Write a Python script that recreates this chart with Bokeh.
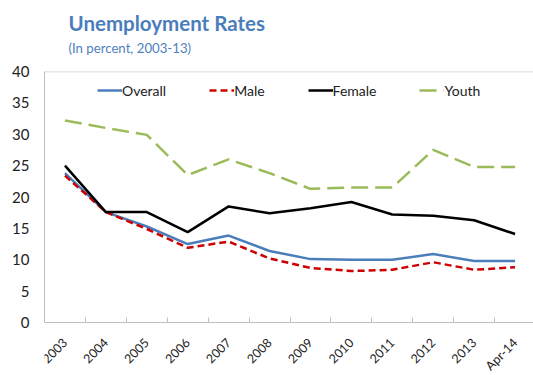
import math
from bokeh.plotting import figure
from bokeh.models import (FixedTicker, Legend, LegendItem, Span, Range1d, Title)
from bokeh.embed import file_html
from bokeh.resources import INLINE

categories = ["2003", "2004", "2005", "2006", "2007", "2008", "2009", "2010",
              "2011", "2012", "2013", "Apr-14"]
overall = [23.8, 17.6, 15.3, 12.5, 13.85, 11.4, 10.1, 10.0, 10.0, 10.9, 9.8, 9.8]
male = [23.4, 17.6, 14.9, 11.9, 12.9, 10.2, 8.7, 8.2, 8.4, 9.6, 8.4, 8.8]
female = [25.0, 17.6, 17.6, 14.4, 18.5, 17.4, 18.2, 19.2, 17.2, 17.0, 16.3, 14.1]
youth = [32.2, 31.0, 29.9, 23.5, 26.0, 23.8, 21.3, 21.5, 21.5, 27.5, 24.8, 24.8]
y_ticks = [0, 5, 10, 15, 20, 25, 30, 35, 40]

xs = [i + 0.5 for i in range(len(categories))]
FONT = "Lato"

# frame spans from y=71px to the bottom; value 0 sits at y=322px
H, TOP, ZERO_PX = 375, 71, 322
px_per_unit = (ZERO_PX - TOP) / 40.0
y_min = -(H - ZERO_PX) / px_per_unit

p = figure(width=533, height=H, output_backend="svg", toolbar_location=None,
           x_range=Range1d(0, 11.95), y_range=Range1d(y_min, 40),
           min_border_left=44, min_border_right=0, min_border_top=TOP,
           min_border_bottom=0)
p.outline_line_color = None
p.xgrid.grid_line_color = None
p.ygrid.grid_line_color = None

# Titles
sub = Title(text="(In percent, 2003-13)", text_font=FONT, text_font_size="13.2px",
            text_color="#4F81BD", text_font_style="normal", offset=24, standoff=31)
tit = Title(text="Unemployment Rates", text_font=FONT, text_font_size="20.5px",
            text_color="#4A7EBB", text_font_style="bold", offset=24, standoff=-24)
p.add_layout(sub, "above")
p.add_layout(tit, "above")

# Axes
p.xaxis.fixed_location = 0
p.xaxis.ticker = FixedTicker(ticks=xs, minor_ticks=list(range(0, 13)))
p.xaxis.major_label_overrides = {x: c for x, c in zip(xs, categories)}
p.xaxis.major_tick_line_color = None
p.xaxis.minor_tick_in = 5
p.xaxis.minor_tick_out = 0
p.xaxis.minor_tick_line_color = "#BFBFBF"
p.xaxis.axis_line_color = "#BFBFBF"
p.xaxis.major_label_orientation = math.pi / 4
p.xaxis.major_label_text_font = FONT
p.xaxis.major_label_text_font_size = "12.5px"
p.xaxis.major_label_text_color = "#222222"
p.xaxis.major_label_standoff = 12

p.yaxis.bounds = (0, 40)
p.yaxis.ticker = FixedTicker(ticks=y_ticks)
p.yaxis.major_tick_line_color = None
p.yaxis.minor_tick_line_color = None
p.yaxis.axis_line_color = "#BFBFBF"
p.yaxis.major_label_text_font = FONT
p.yaxis.major_label_text_font_size = "15px"
p.yaxis.major_label_text_color = "#222222"
p.yaxis.major_label_standoff = 9

p.add_layout(Span(location=40, dimension="width", line_color="#D0D0D0", line_width=1.5))

r1 = p.line(xs, overall, line_color="#4A7EBB", line_width=2.5)
r2 = p.line(xs, male, line_color="#CC0000", line_width=2.5, line_dash="7 4")
r3 = p.line(xs, female, line_color="#000000", line_width=2.5)
r4 = p.line(xs, youth, line_color="#9BBB59", line_width=2.5, line_dash="17 7")

legend = Legend(items=[LegendItem(label="Overall", renderers=[r1]),
                       LegendItem(label="Male", renderers=[r2]),
                       LegendItem(label="Female", renderers=[r3]),
                       LegendItem(label="Youth", renderers=[r4])],
                orientation="horizontal", location=(53, 275),
                background_fill_alpha=0, border_line_color=None,
                padding=0, margin=0, spacing=43, glyph_width=25, glyph_height=20,
                label_standoff=0, label_text_font=FONT, label_text_font_size="14px",
                label_text_color="#222222")
p.add_layout(legend, "center")

open("out.html", "w").write(file_html(p, INLINE))
